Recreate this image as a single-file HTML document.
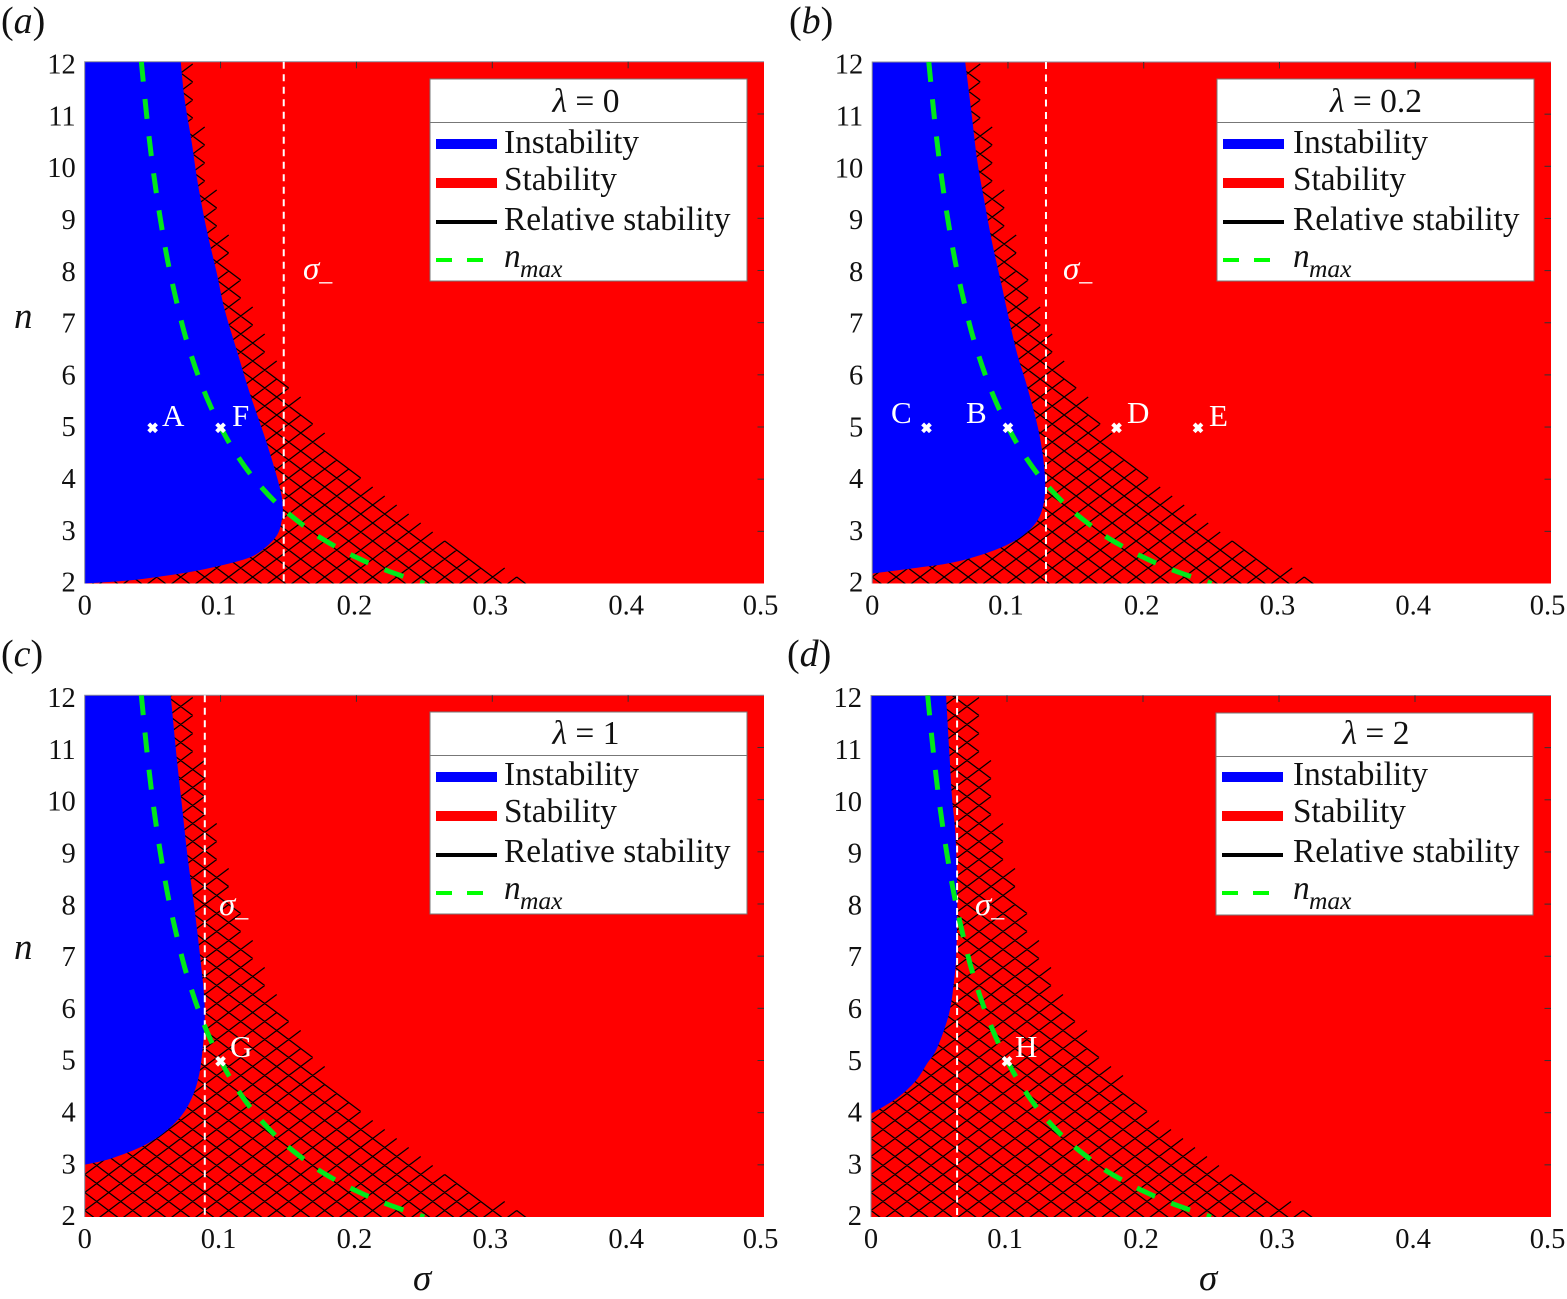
<!DOCTYPE html>
<html lang="en">
<head>
<meta charset="utf-8">
<title>Stability diagrams</title>
<style>
html,body{margin:0;padding:0;background:#fff;width:1567px;height:1299px;overflow:hidden}
svg{display:block;font-family:"Liberation Serif",serif}
.tick{font-size:28.5px;fill:#111}
.lt{font-size:33.3px;fill:#111}
.lg{font-size:33.5px;fill:#111}
.sub{font-size:25.5px;font-style:italic;fill:#111}
.pl{font-size:38px;fill:#111}
.mk{font-size:31px;fill:#fff}
.sm{font-size:33px;fill:#fff;font-style:italic}
i,.it{font-style:italic}
</style>
</head>
<body>
<svg id="figure" xmlns="http://www.w3.org/2000/svg" width="1567" height="1299" viewBox="0 0 1567 1299">
<g id="plots"></g>

<g>
<text class="pl" x="1" y="33">(<tspan class="it">a</tspan>)</text>
<text class="pl" x="789" y="33">(<tspan class="it">b</tspan>)</text>
<text class="pl" x="1" y="666">(<tspan class="it">c</tspan>)</text>
<text class="pl" x="787" y="666">(<tspan class="it">d</tspan>)</text>
</g>

<g>
<text x="14" y="328" font-size="37" font-style="italic" fill="#111">n</text>
<text x="14" y="959" font-size="37" font-style="italic" fill="#111">n</text>
<text x="413" y="1290" font-size="37" font-style="italic" fill="#111">σ</text>
<text x="1199" y="1290" font-size="37" font-style="italic" fill="#111">σ</text>
</g>

<g>
<text class="sm" x="303" y="279">σ<tspan font-size="26" font-style="normal" dy="1">_</tspan></text>
<text class="sm" x="1063" y="279">σ<tspan font-size="26" font-style="normal" dy="1">_</tspan></text>
<text class="sm" x="219" y="915">σ<tspan font-size="26" font-style="normal" dy="1">_</tspan></text>
<text class="sm" x="975" y="915">σ<tspan font-size="26" font-style="normal" dy="1">_</tspan></text>
</g>

<g>
<text class="mk" x="162" y="426">A</text>
<text class="mk" x="232" y="426">F</text>
<text class="mk" x="891" y="423">C</text>
<text class="mk" x="966" y="423">B</text>
<text class="mk" x="1127" y="423">D</text>
<text class="mk" x="1209" y="426">E</text>
<text class="mk" x="230" y="1057">G</text>
<text class="mk" x="1015" y="1057">H</text>
</g>

<g transform="translate(430,79)">
<rect x="0" y="0" width="317" height="202" fill="#fff" stroke="#777" stroke-width="1"/>
<line x1="0" x2="317" y1="43.5" y2="43.5" stroke="#777" stroke-width="1"/>
<text class="lg" x="156" y="33" text-anchor="middle"><tspan class="it">λ</tspan> = 0</text>
<line x1="6" x2="67" y1="65" y2="65" stroke="#0000ff" stroke-width="10"/>
<text class="lt" x="74" y="74">Instability</text>
<line x1="6" x2="67" y1="104" y2="104" stroke="#ff0000" stroke-width="10"/>
<text class="lt" x="74" y="111">Stability</text>
<line x1="6" x2="67" y1="143" y2="143" stroke="#000" stroke-width="4"/>
<text class="lt" x="74" y="151">Relative stability</text>
<line x1="6" x2="53" y1="181" y2="181" stroke="#00ff00" stroke-width="4" stroke-dasharray="16 15"/>
<text class="lt it" x="74" y="188">n</text>
<text class="sub" x="90" y="198">max</text>
</g>

<g transform="translate(1217,79)">
<rect x="0" y="0" width="317" height="202" fill="#fff" stroke="#777" stroke-width="1"/>
<line x1="0" x2="317" y1="43.5" y2="43.5" stroke="#777" stroke-width="1"/>
<text class="lg" x="159" y="33" text-anchor="middle"><tspan class="it">λ</tspan> = 0.2</text>
<line x1="6" x2="67" y1="65" y2="65" stroke="#0000ff" stroke-width="10"/>
<text class="lt" x="76" y="74">Instability</text>
<line x1="6" x2="67" y1="104" y2="104" stroke="#ff0000" stroke-width="10"/>
<text class="lt" x="76" y="111">Stability</text>
<line x1="6" x2="67" y1="143" y2="143" stroke="#000" stroke-width="4"/>
<text class="lt" x="76" y="151">Relative stability</text>
<line x1="6" x2="53" y1="181" y2="181" stroke="#00ff00" stroke-width="4" stroke-dasharray="16 15"/>
<text class="lt it" x="76" y="188">n</text>
<text class="sub" x="92" y="198">max</text>
</g>

<g transform="translate(430,712)">
<rect x="0" y="0" width="317" height="202" fill="#fff" stroke="#777" stroke-width="1"/>
<line x1="0" x2="317" y1="43.5" y2="43.5" stroke="#777" stroke-width="1"/>
<text class="lg" x="156" y="32" text-anchor="middle"><tspan class="it">λ</tspan> = 1</text>
<line x1="6" x2="67" y1="65" y2="65" stroke="#0000ff" stroke-width="10"/>
<text class="lt" x="74" y="73">Instability</text>
<line x1="6" x2="67" y1="104" y2="104" stroke="#ff0000" stroke-width="10"/>
<text class="lt" x="74" y="110">Stability</text>
<line x1="6" x2="67" y1="143" y2="143" stroke="#000" stroke-width="4"/>
<text class="lt" x="74" y="150">Relative stability</text>
<line x1="6" x2="53" y1="181" y2="181" stroke="#00ff00" stroke-width="4" stroke-dasharray="16 15"/>
<text class="lt it" x="74" y="187">n</text>
<text class="sub" x="90" y="197">max</text>
</g>

<g transform="translate(1216,713)">
<rect x="0" y="0" width="317" height="202" fill="#fff" stroke="#777" stroke-width="1"/>
<line x1="0" x2="317" y1="43.5" y2="43.5" stroke="#777" stroke-width="1"/>
<text class="lg" x="160" y="31" text-anchor="middle"><tspan class="it">λ</tspan> = 2</text>
<line x1="6" x2="67" y1="64" y2="64" stroke="#0000ff" stroke-width="10"/>
<text class="lt" x="77" y="72">Instability</text>
<line x1="6" x2="67" y1="103" y2="103" stroke="#ff0000" stroke-width="10"/>
<text class="lt" x="77" y="109">Stability</text>
<line x1="6" x2="67" y1="142" y2="142" stroke="#000" stroke-width="4"/>
<text class="lt" x="77" y="149">Relative stability</text>
<line x1="6" x2="53" y1="180" y2="180" stroke="#00ff00" stroke-width="4" stroke-dasharray="16 15"/>
<text class="lt it" x="77" y="186">n</text>
<text class="sub" x="93" y="196">max</text>
</g>
</svg>

<script>
const sigmaTicks = [0, 0.1, 0.2, 0.3, 0.4, 0.5];
const sigmaTickLabels = ['0', '0.1', '0.2', '0.3', '0.4', '0.5'];
const nTicks = [2, 3, 4, 5, 6, 7, 8, 9, 10, 11, 12];
const nTickLabels = ['2', '3', '4', '5', '6', '7', '8', '9', '10', '11', '12'];

// Outer edge of the relative-stability (hatched) region, common to all panels
const relativeEdgeN = [12, 11.48, 10.23, 8.97, 7.59, 6.53, 5.32, 4.51, 3.59, 3.07, 2.6, 2.19, 2];
const relativeEdgeSigma = [0.0745, 0.0785, 0.0875, 0.098, 0.1145, 0.1325, 0.16, 0.1845, 0.221, 0.25, 0.278, 0.3076, 0.3277];

// n_max curve, common to all panels
const nmaxN = [12, 11, 10, 9, 8, 7, 6.5, 6, 5.5, 5, 4.5, 4, 3.5, 3, 2.75, 2.5, 2.25, 2];
const nmaxSigma = [0.0417, 0.0455, 0.05, 0.0556, 0.0625, 0.0714, 0.0769, 0.0833, 0.0909, 0.1, 0.1111, 0.125, 0.1429, 0.1667, 0.1818, 0.2, 0.2222, 0.25];

// Instability boundary for each panel
const instabilitySigmaA = [0.0707, 0.0736, 0.0788, 0.0832, 0.0898, 0.0972, 0.1031, 0.1119, 0.1215, 0.134, 0.1436, 0.1458, 0.1451, 0.1414, 0.1311, 0.1193, 0.0943, 0.07, 0.0331, 0];
const instabilityNA = [12, 11.27, 10.45, 9.68, 8.78, 7.95, 7.24, 6.47, 5.65, 4.69, 3.84, 3.46, 3.21, 2.92, 2.65, 2.48, 2.31, 2.19, 2.06, 2];
const instabilitySigmaB = [0.0685, 0.0729, 0.0773, 0.0825, 0.0884, 0.095, 0.1009, 0.1068, 0.1134, 0.1208, 0.1252, 0.1274, 0.1267, 0.123, 0.1156, 0.1031, 0.0839, 0.0589, 0.0295, 0];
const instabilityNB = [12, 11.08, 10.12, 9.35, 8.53, 7.76, 7.05, 6.4, 5.84, 5.13, 4.55, 3.98, 3.59, 3.27, 3.02, 2.79, 2.58, 2.4, 2.29, 2.19];
const instabilitySigmaC = [0.0633, 0.0677, 0.0714, 0.0758, 0.081, 0.0869, 0.0884, 0.0869, 0.0832, 0.0751, 0.0626, 0.0457, 0.0206, 0];
const instabilityNC = [12, 10.81, 9.93, 8.89, 7.87, 6.53, 5.9, 5.24, 4.61, 4.09, 3.71, 3.4, 3.13, 3];
const instabilitySigmaD = [0.0552, 0.0574, 0.0596, 0.0619, 0.0633, 0.0633, 0.0626, 0.0611, 0.0574, 0.0486, 0.0412, 0.0329, 0.0191, 0];
const instabilityND = [12, 11, 10.04, 9.41, 8.51, 7.62, 6.97, 6.53, 5.9, 5.24, 4.94, 4.61, 4.28, 3.98];

// sigma_minus value for each panel
const sigmaMinusValues = [0.1465, 0.128, 0.0884, 0.0633];

// Marked points for each panel
const pointSigmaA = [0.05, 0.1];
const pointNA = [5, 5];
const pointSigmaB = [0.04, 0.1, 0.18, 0.24];
const pointNB = [5, 5, 5, 5];
const pointSigmaC = [0.1];
const pointNC = [5];
const pointSigmaD = [0.1];
const pointND = [5];

const NS = 'http://www.w3.org/2000/svg';
const plots = document.getElementById('plots');

const panelFrames = [
  {id: 'a', left: 84.7, right: 764, top: 61.8, bottom: 583.5},
  {id: 'b', left: 872.2, right: 1551, top: 62, bottom: 583.5},
  {id: 'c', left: 84.7, right: 764, top: 695.3, bottom: 1217},
  {id: 'd', left: 871, right: 1551, top: 695.5, bottom: 1217}
];
const panelCurves = [
  {s: instabilitySigmaA, n: instabilityNA, ps: pointSigmaA, pn: pointNA},
  {s: instabilitySigmaB, n: instabilityNB, ps: pointSigmaB, pn: pointNB},
  {s: instabilitySigmaC, n: instabilityNC, ps: pointSigmaC, pn: pointNC},
  {s: instabilitySigmaD, n: instabilityND, ps: pointSigmaD, pn: pointND}
];

function make(tag, attrs, parent) {
  const el = document.createElementNS(NS, tag);
  for (const k in attrs) el.setAttribute(k, attrs[k]);
  parent.appendChild(el);
  return el;
}

function smoothPath(pts, moveFirst) {
  let d = (moveFirst ? 'M' : 'L') + pts[0][0].toFixed(2) + ' ' + pts[0][1].toFixed(2);
  for (let i = 0; i < pts.length - 1; i++) {
    const p0 = pts[Math.max(i - 1, 0)], p1 = pts[i], p2 = pts[i + 1], p3 = pts[Math.min(i + 2, pts.length - 1)];
    const c1x = p1[0] + (p2[0] - p0[0]) / 6, c1y = p1[1] + (p2[1] - p0[1]) / 6;
    const c2x = p2[0] - (p3[0] - p1[0]) / 6, c2y = p2[1] - (p3[1] - p1[1]) / 6;
    d += 'C' + c1x.toFixed(2) + ' ' + c1y.toFixed(2) + ' ' + c2x.toFixed(2) + ' ' + c2y.toFixed(2) + ' ' + p2[0].toFixed(2) + ' ' + p2[1].toFixed(2);
  }
  return d;
}

function edgeSigmaAt(n) {
  if (n >= relativeEdgeN[0]) return relativeEdgeSigma[0];
  for (let i = 0; i < relativeEdgeN.length - 1; i++) {
    if (n <= relativeEdgeN[i] && n >= relativeEdgeN[i + 1]) {
      const t = (relativeEdgeN[i] - n) / (relativeEdgeN[i] - relativeEdgeN[i + 1]);
      return relativeEdgeSigma[i] + t * (relativeEdgeSigma[i + 1] - relativeEdgeSigma[i]);
    }
  }
  return relativeEdgeSigma[relativeEdgeSigma.length - 1];
}

const HATCH_STEP_X = 12, HATCH_STEP_Y = 9, HATCH_ANCHOR_X = 432, HATCH_ANCHOR_Y = 6.5;

panelFrames.forEach(function (f, idx) {
  const curves = panelCurves[idx];
  const xOf = function (s) { return f.left + s / 0.5 * (f.right - f.left); };
  const yOf = function (n) { return f.top + (12 - n) / 10 * (f.bottom - f.top); };
  const nOf = function (y) { return 12 - (y - f.top) / (f.bottom - f.top) * 10; };

  const g = make('g', {}, plots);
  
  

  const clip = make('clipPath', {id: 'clip-' + f.id}, g);
  make('rect', {x: f.left, y: f.top, width: f.right - f.left, height: f.bottom - f.top}, clip);

  const stable = make('rect', {x: f.left, y: f.top, width: f.right - f.left, height: f.bottom - f.top, fill: '#ff0000'}, g);
  
  

  // hatch lattice: a segment is kept when its midpoint lies inside the relative-stability edge
  let hd = '';
  const ax = f.left + HATCH_ANCHOR_X, ay = f.bottom - HATCH_ANCHOR_Y;
  for (let i = -40; i <= 30; i++) {
    for (let j = -62; j <= 4; j++) {
      if ((Math.abs(i) + Math.abs(j)) % 2) continue;
      const x = ax + i * HATCH_STEP_X, y = ay + j * HATCH_STEP_Y;
      [-1, 1].forEach(function (dir) {
        const x2 = x + HATCH_STEP_X, y2 = y + dir * HATCH_STEP_Y;
        const mx = (x + x2) / 2, my = (y + y2) / 2;
        if (mx < f.left - 14 || mx > f.right || my < f.top - 12 || my > f.bottom + 12) return;
        const edgeX = xOf(edgeSigmaAt(Math.max(2, nOf(my))));
        if (mx <= edgeX) hd += 'M' + x.toFixed(1) + ' ' + y.toFixed(1) + 'L' + x2.toFixed(1) + ' ' + y2.toFixed(1);
      });
    }
  }
  const hatch = make('path', {d: hd, fill: 'none', stroke: '#000', 'stroke-width': 1.25, 'clip-path': 'url(#clip-' + f.id + ')'}, g);
  
  

  const blueTop = [];
  for (let i = 0; i < curves.s.length; i++) blueTop.push([xOf(curves.s[i]), yOf(curves.n[i])]);
  const blueD = 'M' + f.left + ' ' + f.top + 'L' + blueTop[0][0].toFixed(2) + ' ' + blueTop[0][1].toFixed(2) +
    smoothPath(blueTop, true).replace(/^M[^C]*/, '') + 'Z';
  const blue = make('path', {d: blueD, fill: '#0000ff'}, g);
  
  

  // frame and inward ticks on the top and right edges
  const frame = make('path', {d: 'M' + f.left + ' ' + f.bottom + 'V' + f.top + 'H' + f.right, fill: 'none', stroke: '#8a8a9a', 'stroke-width': 1}, g);
  
  

  sigmaTicks.forEach(function (s, i) {
    if (i > 0 && i < sigmaTicks.length - 1) {
      const t = make('line', {x1: xOf(s), x2: xOf(s), y1: f.top, y2: f.top + 6.5, stroke: '#333', 'stroke-width': 1}, g);
      
      
    }
    const shift = i === 0 ? 0 : (i === sigmaTicks.length - 1 ? -3.5 : -2);
    const label = make('text', {class: 'tick', x: xOf(s) + shift, y: f.bottom + 31, 'text-anchor': 'middle'}, g);
    label.textContent = sigmaTickLabels[i];
    
    
  });

  nTicks.forEach(function (n, i) {
    if (i > 0 && i < nTicks.length - 1) {
      const t = make('line', {x1: f.right - 6.5, x2: f.right, y1: yOf(n), y2: yOf(n), stroke: '#333', 'stroke-width': 1}, g);
      
      
    }
    const label = make('text', {class: 'tick', x: f.left - 9, y: yOf(n) + 8.2 + (n - 2) * 0.35, 'text-anchor': 'end'}, g);
    label.textContent = nTickLabels[i];
    
    
  });

  const sm = make('line', {x1: xOf(sigmaMinusValues[idx]), x2: xOf(sigmaMinusValues[idx]), y1: f.top, y2: f.bottom, stroke: '#fff', 'stroke-width': 2, 'stroke-dasharray': '7 5.5'}, g);
  
  

  const nm = [];
  for (let i = 0; i < nmaxN.length; i++) nm.push([xOf(nmaxSigma[i]), yOf(nmaxN[i])]);
  const nmaxPath = make('path', {d: smoothPath(nm, true), fill: 'none', stroke: '#00e81a', 'stroke-width': 5, 'stroke-dasharray': '20 17.4', 'clip-path': 'url(#clip-' + f.id + ')'}, g);
  
  

  curves.ps.forEach(function (s, i) {
    const cx = xOf(s), cy = yOf(curves.pn[i]) + 0.8, r = 3.9;
    const marker = make('path', {d: 'M' + (cx - r) + ' ' + (cy - r) + 'L' + (cx + r) + ' ' + (cy + r) + 'M' + (cx - r) + ' ' + (cy + r) + 'L' + (cx + r) + ' ' + (cy - r), stroke: '#fff', 'stroke-width': 4, fill: 'none'}, g);
    
    
  });
});
</script>
</body>
</html>
